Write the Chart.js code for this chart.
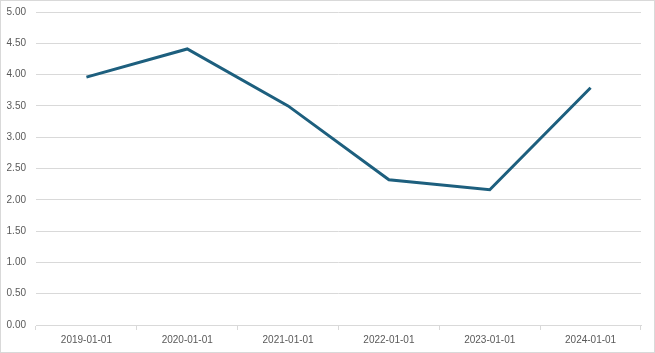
<!DOCTYPE html>
<html><head><meta charset="utf-8">
<script src="https://cdn.jsdelivr.net/npm/chart.js@4"></script>
<style>
html,body{margin:0;padding:0;background:#fff;}
#wrap{position:absolute;left:0;top:0;width:653px;height:351px;border:1px solid #d9d9d9;}
</style></head><body>
<div id="wrap"><canvas id="c" width="653" height="351"></canvas></div>
<script>
const categories = ["2019-01-01","2020-01-01","2021-01-01","2022-01-01","2023-01-01","2024-01-01"];
const values = [3.96, 4.41, 3.50, 2.32, 2.16, 3.79];
const seriesName = "Value";

new Chart(document.getElementById('c'), {
  type: 'line',
  data: { labels: categories, datasets: [{ label: seriesName, data: values, borderColor: '#1d5f7e', borderWidth: 3, pointRadius: 0, tension: 0, fill: false }] },
  options: {
    responsive: false, animation: false,
    plugins: { legend: { display: false }, tooltip: { enabled: false } },
    layout: { padding: { left: 0, right: 13, top: 11, bottom: 0 } },
    scales: {
      x: {
        offset: true,
        afterFit: s => { s.height = 27; },
        grid: { offset: true, drawOnChartArea: false, drawTicks: true, tickLength: 5, color: '#d9d9d9' },
        border: { display: true, color: '#d9d9d9' },
        ticks: { color: '#595959', font: { family: 'Liberation Sans', size: 10 }, maxRotation: 0, padding: 4 }
      },
      y: {
        min: 0, max: 5,
        afterFit: s => { s.width = 35; },
        grid: { color: '#d9d9d9', drawTicks: true, tickLength: 10, tickColor: 'rgba(0,0,0,0)' },
        border: { display: false },
        ticks: { stepSize: 0.5, color: '#595959', font: { family: 'Liberation Sans', size: 10 }, padding: 0, callback: v => Number(v).toFixed(2) }
      }
    }
  }
});
</script>
</body></html>
